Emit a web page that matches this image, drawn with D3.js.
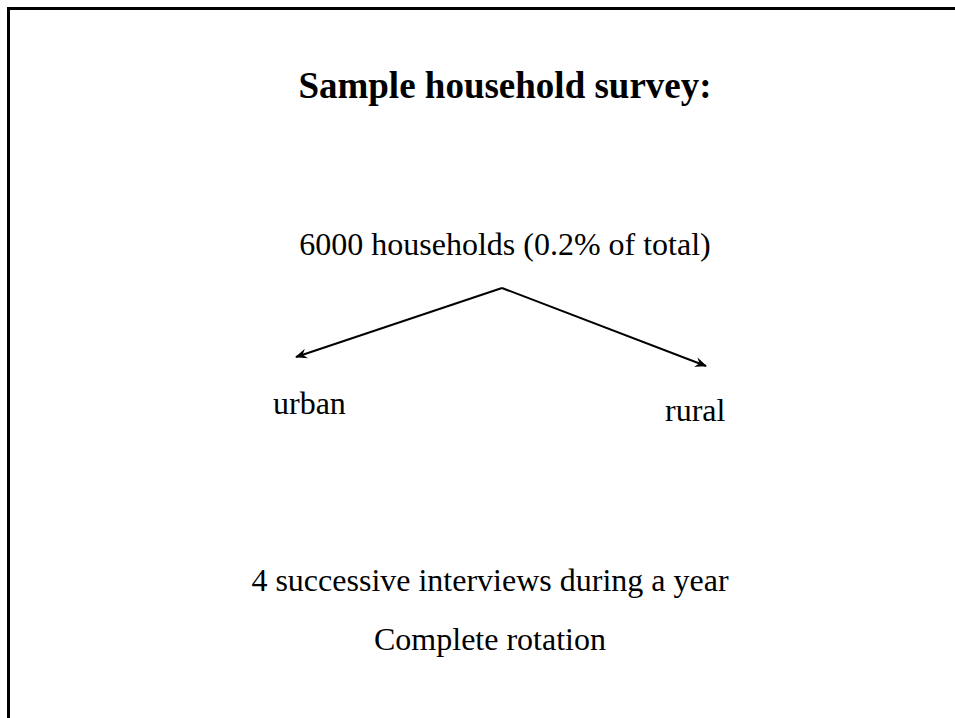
<!DOCTYPE html>
<html>
<head>
<meta charset="utf-8">
<script src="https://cdn.jsdelivr.net/npm/d3@7"></script>
<style>
  html, body { margin: 0; padding: 0; background: #fff; }
  svg { display: block; }
  text { font-family: "Liberation Serif", "Times New Roman", serif; fill: #000; }
</style>
</head>
<body>
<svg id="chart" width="955" height="718"></svg>
<script>
// ---- content ----
const title = "Sample household survey:";
const rootLabel = "6000 households (0.2% of total)";
const branchLabels = ["urban", "rural"];
const footerLines = ["4 successive interviews during a year", "Complete rotation"];

const W = 955, H = 718;
const svg = d3.select("#chart");

// frame (top and left edges visible)
svg.append("path")
  .attr("d", `M8.5,${H} V8.5 H${W}`)
  .attr("fill", "none")
  .attr("stroke", "#000")
  .attr("stroke-width", 3);

// arrow marker
svg.append("defs").append("marker")
  .attr("id", "arrow")
  .attr("viewBox", "0 0 12 10")
  .attr("refX", 11).attr("refY", 5)
  .attr("markerWidth", 6).attr("markerHeight", 5.5)
  .attr("markerUnits", "strokeWidth")
  .attr("orient", "auto")
  .append("path")
  .attr("d", "M0,0 L12,5 L0,10 L4,5 Z")
  .attr("fill", "#000");

// title
svg.append("text")
  .attr("x", 505).attr("y", 98)
  .attr("text-anchor", "middle")
  .attr("font-size", 37)
  .attr("font-weight", "bold")
  .text(title);

// root label
svg.append("text")
  .attr("x", 505).attr("y", 255)
  .attr("text-anchor", "middle")
  .attr("font-size", 32)
  .text(rootLabel);

// branches
const xBranch = d3.scaleOrdinal().domain(branchLabels).range([296, 706]);
const yTip = d3.scaleOrdinal().domain(branchLabels).range([357, 366]);
const xText = d3.scaleOrdinal().domain(branchLabels).range([273, 665]);
const yText = d3.scaleOrdinal().domain(branchLabels).range([414, 421]);
const apex = [502, 288];

svg.selectAll("line.branch")
  .data(branchLabels)
  .join("line")
  .attr("class", "branch")
  .attr("x1", apex[0]).attr("y1", apex[1])
  .attr("x2", d => xBranch(d)).attr("y2", d => yTip(d))
  .attr("stroke", "#000")
  .attr("stroke-width", 2)
  .attr("marker-end", "url(#arrow)");

svg.selectAll("text.branch")
  .data(branchLabels)
  .join("text")
  .attr("class", "branch")
  .attr("x", d => xText(d)).attr("y", d => yText(d))
  .attr("font-size", 32)
  .text(d => d);

// footer lines
const yFooter = d3.scalePoint().domain(footerLines).range([591, 650]);
svg.selectAll("text.footer")
  .data(footerLines)
  .join("text")
  .attr("class", "footer")
  .attr("x", 490).attr("y", d => yFooter(d))
  .attr("text-anchor", "middle")
  .attr("font-size", 32)
  .text(d => d);
</script>
</body>
</html>
